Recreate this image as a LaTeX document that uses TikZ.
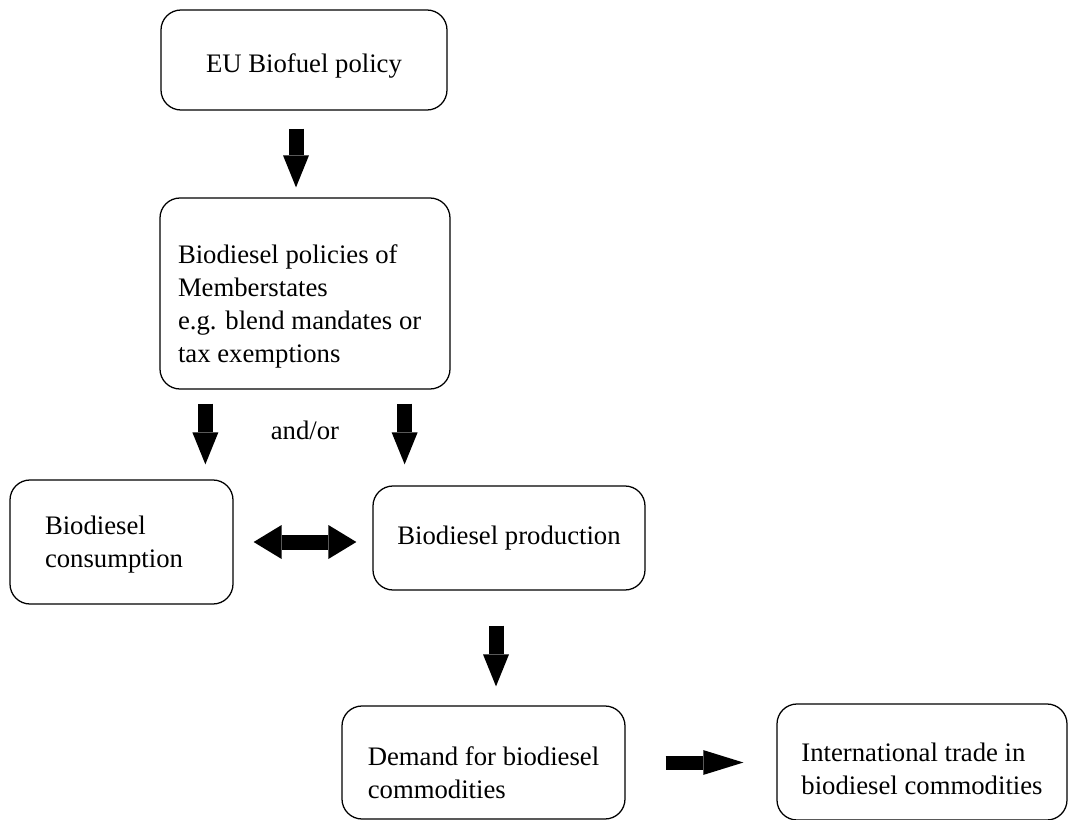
\documentclass[tikz,border=0pt]{standalone}
\usepackage{fontspec}
\setmainfont{Liberation Serif}
\usetikzlibrary{arrows.meta, positioning}

\newcommand{\boxlift}[1]{\rule{0pt}{#1}}

\begin{document}
\begin{tikzpicture}[
    box/.style={rectangle, rounded corners=0.5cm, draw=black, line width=0.9pt, align=flush left, inner sep=0pt, font=\fontsize{19}{23.5}\selectfont},
    blockarrow/.style={line width=0.375cm, -{Triangle[width=0.65cm, length=0.8cm, line width=0pt]}},
    twoway/.style={line width=0.375cm, {Triangle[width=0.85cm, length=0.7cm, line width=0pt]}-{Triangle[width=0.85cm, length=0.7cm, line width=0pt]}},
    sidearrow/.style={line width=0.35cm, -{Triangle[width=0.62cm, length=1.0cm, line width=0pt]}},
]
    \useasboundingbox (0,0) rectangle (26.7,-20.5);

    % policy level
    \node (eu) [box, minimum width=7.15cm, minimum height=2.5cm] at (7.6,-1.5) {\boxlift{21.6pt}EU Biofuel policy};
    \node (ms) [box, text width=6.35cm, minimum width=7.25cm, minimum height=4.775cm] at (7.625,-7.3375) {\boxlift{31.6pt}Biodiesel policies of\\Memberstates\\e.g. blend mandates or\\tax exemptions};
    \node (andor) [below=0.65cm of ms, font=\fontsize{19}{23.5}\selectfont] {and/or};

    % market level
    \node (cons) [box, text width=3.825cm, minimum width=5.575cm, minimum height=3.1cm] at (3.0375,-13.55) {\boxlift{17pt}Biodiesel\\consumption};
    \node (prod) [box, minimum width=6.8cm, minimum height=2.6cm] at (12.725,-13.45) {Biodiesel production};
    \node (dem) [box, minimum width=7.075cm, minimum height=2.825cm] at (12.0875,-19.0625) {\boxlift{27.3pt}Demand for biodiesel\\commodities};
    \node (intl) [box, minimum width=7.25cm, minimum height=2.9cm] at (23.05,-19.05) {\boxlift{23pt}International trade in\\biodiesel commodities};

    \draw [blockarrow, shorten <=0.45cm, shorten >=0.25cm] ([xshift=-0.2cm]eu.south) -- ([xshift=-0.2cm]eu.south |- ms.north);
    \draw [blockarrow, shorten <=0.35cm, shorten >=0.375cm] ([xshift=1.15cm]ms.south west) -- ([xshift=1.15cm]ms.south west |- cons.north);
    \draw [blockarrow, shorten <=0.35cm, shorten >=0.525cm] ([xshift=-1.15cm]ms.south east) -- ([xshift=-1.15cm]ms.south east |- prod.north);
    \draw [twoway, shorten <=0.5cm, shorten >=0.4cm] (cons.east) -- (cons.east -| prod.west);
    \draw [blockarrow, shorten <=0.875cm, shorten >=0.475cm] ([xshift=-0.325cm]prod.south) -- ([xshift=-0.325cm]prod.south |- dem.north);
    \draw [sidearrow, shorten <=1.0cm, shorten >=0.825cm] (dem.east) -- (dem.east -| intl.west);

\end{tikzpicture}
\end{document}
